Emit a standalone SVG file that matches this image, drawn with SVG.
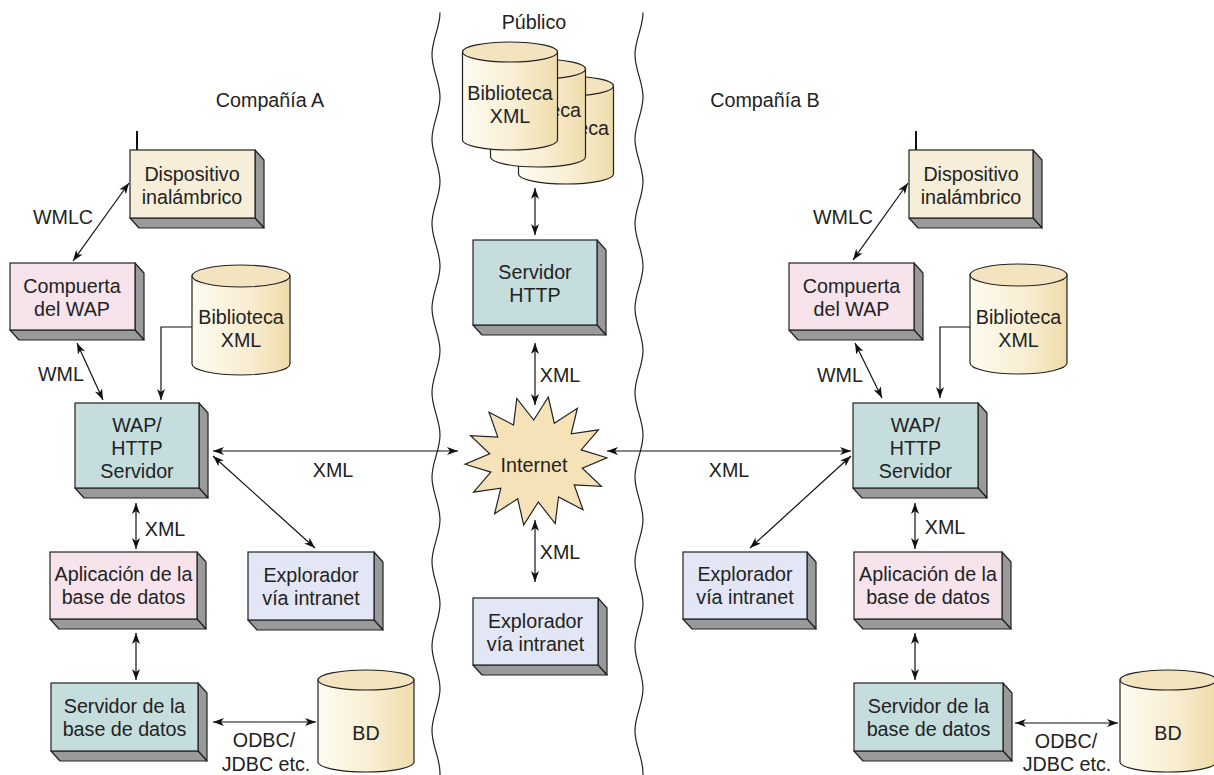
<svg xmlns="http://www.w3.org/2000/svg" xmlns:xlink="http://www.w3.org/1999/xlink" width="1214" height="775" viewBox="0 0 1214 775">
<style>
text{font-family:"Liberation Sans",Arial,sans-serif;font-size:19.7px;fill:#222;text-anchor:middle}
.front{stroke:#222;stroke-width:1.2}
.side{fill:#9a9a9a;stroke:#222;stroke-width:1.2;stroke-linejoin:round}
.cream{fill:#f6eed8}.pink{fill:#f6e3ec}.teal{fill:#c5dddd}.lav{fill:#e3e6f4}
.cylbody{fill:url(#cylg);stroke:#222;stroke-width:1.2}
.cyltop{fill:#f3e4bf;stroke:#222;stroke-width:1.2}
.conn line,.conn polyline{stroke:#111;stroke-width:1.2;fill:none}
.dbl{marker-start:url(#ah);marker-end:url(#ah)}
.one{marker-end:url(#ah)}
.wave{fill:none;stroke:#222;stroke-width:1.2}
</style>
<defs>
<linearGradient id="cylg" x1="0" y1="0" x2="1" y2="0">
<stop offset="0" stop-color="#fefbf0"/><stop offset="0.55" stop-color="#f8eed3"/><stop offset="1" stop-color="#efdcab"/>
</linearGradient>
<marker id="ah" viewBox="0 0 11 8" refX="11" refY="4" markerWidth="11" markerHeight="8" markerUnits="userSpaceOnUse" orient="auto-start-reverse">
<path d="M0,0 L11,4 L0,8 L3,4 Z" fill="#111"/>
</marker>
<path id="wv" d="M643,12.5 C643,27.9 635,39.35 635,54.75 S643,81.6 643,97 S635,123.85 635,139.25 S643,166.1 643,181.5 S635,208.35 635,223.75 S643,250.6 643,266 S635,292.85 635,308.25 S643,335.1 643,350.5 S635,377.35 635,392.75 S643,419.6 643,435 S635,461.85 635,477.25 S643,504.1 643,519.5 S635,546.35 635,561.75 S643,588.6 643,604 S635,630.85 635,646.25 S643,673.1 643,688.5 S635,715.35 635,730.75 S643,757.6 643,773 S635,799.85 635,815.25"/>
</defs>
<rect width="1214" height="775" fill="#fff"/>

<g id="boundaries">
<use xlink:href="#wv" class="wave"/>
<use xlink:href="#wv" class="wave" transform="translate(-203,0)"/>
</g>

<g id="labels-areas">
<text x="270" y="107">Compañía A</text>
<text x="534" y="29">Público</text>
<text x="765" y="107">Compañía B</text>
</g>

<!-- Company A -->
<g id="dispA">
<line x1="137" y1="131" x2="137" y2="150" stroke="#111" stroke-width="2"/>
<polygon class="side" points="255,150 264,160 264,228 255,218"/>
<polygon class="side" points="130,218 255,218 264,228 139,228"/>
<rect class="front cream" x="130" y="150" width="125" height="68"/>
<text x="192" y="181">Dispositivo</text><text x="192" y="204">inalámbrico</text>
</g>
<g id="gateA">
<polygon class="side" points="135,263 144,273 144,340 135,330"/>
<polygon class="side" points="10,330 135,330 144,340 19,340"/>
<rect class="front pink" x="10" y="263" width="125" height="67"/>
<text x="72" y="293">Compuerta</text><text x="72" y="316">del WAP</text>
</g>
<g id="libA">
<path class="cylbody" d="M192,276 V364 A49,11 0 0 0 290,364 V276 Z"/>
<ellipse class="cyltop" cx="241" cy="276" rx="49" ry="11"/>
<text x="241" y="324">Biblioteca</text><text x="241" y="347">XML</text>
</g>
<g id="wapA">
<polygon class="side" points="199,403 208,413 208,498 199,488"/>
<polygon class="side" points="75,488 199,488 208,498 84,498"/>
<rect class="front teal" x="75" y="403" width="124" height="85"/>
<text x="137" y="432">WAP/</text><text x="137" y="455">HTTP</text><text x="137" y="478">Servidor</text>
</g>
<g id="appA">
<polygon class="side" points="197,552 206,562 206,629 197,619"/>
<polygon class="side" points="50,619 197,619 206,629 59,629"/>
<rect class="front pink" x="50" y="552" width="147" height="67"/>
<text x="123.5" y="581">Aplicación de la</text><text x="123.5" y="604">base de datos</text>
</g>
<g id="expA">
<polygon class="side" points="374,552 383,562 383,630 374,620"/>
<polygon class="side" points="248,620 374,620 383,630 257,630"/>
<rect class="front lav" x="248" y="552" width="126" height="68"/>
<text x="311" y="582">Explorador</text><text x="311" y="605">vía intranet</text>
</g>
<g id="dbsA">
<polygon class="side" points="198,683 207,693 207,761 198,751"/>
<polygon class="side" points="51,751 198,751 207,761 60,761"/>
<rect class="front teal" x="51" y="683" width="147" height="68"/>
<text x="124.5" y="713">Servidor de la</text><text x="124.5" y="736">base de datos</text>
</g>
<g id="bdA">
<path class="cylbody" d="M318,680 V762 A48,10 0 0 0 414,762 V680 Z"/>
<ellipse class="cyltop" cx="366" cy="680" rx="48" ry="10"/>
<text x="366" y="740">BD</text>
</g>

<!-- Public -->
<g id="libC">
<path class="cylbody" d="M518.5,86 V174 A47.5,10 0 0 0 613.5,174 V86 Z"/>
<ellipse class="cyltop" cx="566" cy="86" rx="47.5" ry="10"/>
<text x="609" y="135" style="text-anchor:end">eca</text>
<path class="cylbody" d="M490.5,69 V157 A47.5,10 0 0 0 585.5,157 V69 Z"/>
<ellipse class="cyltop" cx="538" cy="69" rx="47.5" ry="10"/>
<text x="581" y="117" style="text-anchor:end">eca</text>
<path class="cylbody" d="M462.5,52 V140 A47.5,10 0 0 0 557.5,140 V52 Z"/>
<ellipse class="cyltop" cx="510" cy="52" rx="47.5" ry="10"/>
<text x="510" y="100">Biblioteca</text><text x="510" y="123">XML</text>
</g>
<g id="http">
<polygon class="side" points="597,240 606,250 606,335 597,325"/>
<polygon class="side" points="473,325 597,325 606,335 482,335"/>
<rect class="front teal" x="473" y="240" width="124" height="85"/>
<text x="535" y="279">Servidor</text><text x="535" y="302">HTTP</text>
</g>
<g id="internet">
<polygon points="548.3,397 554.3,423.2 577.4,408.2 571.2,433.9 598.4,429.9 581.2,449.9 606.9,457.8 582.3,468.1 601.4,486.3 574.2,484.9 583,509.7 558.5,497 555.2,523.6 538.3,502 523.7,525 517.7,498.8 494.6,513.8 500.8,488.1 473.6,492.1 490.8,472.1 465.1,464.2 489.7,453.9 470.6,435.7 497.8,437.1 489,412.3 513.5,425 516.8,398.4 533.7,420" fill="#f5e2b8" stroke="#222" stroke-width="1.2" stroke-linejoin="miter"/>
<text x="534" y="472">Internet</text>
</g>
<g id="expC">
<polygon class="side" points="598,598 607,608 607,675 598,665"/>
<polygon class="side" points="473,665 598,665 607,675 482,675"/>
<rect class="front lav" x="473" y="598" width="125" height="67"/>
<text x="535.5" y="628">Explorador</text><text x="535.5" y="651">vía intranet</text>
</g>

<!-- Company B -->
<g id="dispB">
<line x1="916" y1="131" x2="916" y2="150" stroke="#111" stroke-width="2"/>
<polygon class="side" points="1033,150 1042,160 1042,228 1033,218"/>
<polygon class="side" points="909,218 1033,218 1042,228 918,228"/>
<rect class="front cream" x="909" y="150" width="124" height="68"/>
<text x="971" y="181">Dispositivo</text><text x="971" y="204">inalámbrico</text>
</g>
<g id="gateB">
<polygon class="side" points="914,263 923,273 923,340 914,330"/>
<polygon class="side" points="789,330 914,330 923,340 798,340"/>
<rect class="front pink" x="789" y="263" width="125" height="67"/>
<text x="851.5" y="293">Compuerta</text><text x="851.5" y="316">del WAP</text>
</g>
<g id="libB">
<path class="cylbody" d="M970,275 V363 A48.5,11 0 0 0 1067,363 V275 Z"/>
<ellipse class="cyltop" cx="1018.5" cy="275" rx="48.5" ry="11"/>
<text x="1018.5" y="324">Biblioteca</text><text x="1018.5" y="347">XML</text>
</g>
<g id="wapB">
<polygon class="side" points="978,403 987,413 987,498 978,488"/>
<polygon class="side" points="853,488 978,488 987,498 862,498"/>
<rect class="front teal" x="853" y="403" width="125" height="85"/>
<text x="915.5" y="432">WAP/</text><text x="915.5" y="455">HTTP</text><text x="915.5" y="478">Servidor</text>
</g>
<g id="expB">
<polygon class="side" points="807,552 816,562 816,629 807,619"/>
<polygon class="side" points="683,619 807,619 816,629 692,629"/>
<rect class="front lav" x="683" y="552" width="124" height="67"/>
<text x="745" y="581">Explorador</text><text x="745" y="604">vía intranet</text>
</g>
<g id="appB">
<polygon class="side" points="1002,552 1011,562 1011,629 1002,619"/>
<polygon class="side" points="854,619 1002,619 1011,629 863,629"/>
<rect class="front pink" x="854" y="552" width="148" height="67"/>
<text x="928" y="581">Aplicación de la</text><text x="928" y="604">base de datos</text>
</g>
<g id="dbsB">
<polygon class="side" points="1003,683 1012,693 1012,761 1003,751"/>
<polygon class="side" points="854,751 1003,751 1012,761 863,761"/>
<rect class="front teal" x="854" y="683" width="149" height="68"/>
<text x="928.5" y="713">Servidor de la</text><text x="928.5" y="736">base de datos</text>
</g>
<g id="bdB">
<path class="cylbody" d="M1120,680 V762 A48,10 0 0 0 1216,762 V680 Z"/>
<ellipse class="cyltop" cx="1168" cy="680" rx="48" ry="10"/>
<text x="1168" y="740">BD</text>
</g>

<g id="connectors" class="conn">
<line class="dbl" x1="129" y1="183" x2="73" y2="261"/>
<line class="dbl" x1="77" y1="343" x2="103" y2="400"/>
<polyline class="one" points="192,327 161,327 161,400"/>
<line class="dbl" x1="213" y1="451" x2="458" y2="451"/>
<line class="dbl" x1="213" y1="456" x2="315" y2="548"/>
<line class="dbl" x1="136" y1="503" x2="136" y2="549"/>
<line class="dbl" x1="136" y1="633" x2="136" y2="680"/>
<line class="dbl" x1="213" y1="722" x2="316" y2="722"/>
<line class="dbl" x1="535" y1="188" x2="535" y2="235"/>
<line class="dbl" x1="535" y1="343" x2="535" y2="405"/>
<line class="dbl" x1="535" y1="520" x2="535" y2="582"/>
<line class="dbl" x1="908" y1="183" x2="853" y2="260"/>
<line class="dbl" x1="855" y1="343" x2="882" y2="398"/>
<polyline class="one" points="970,327 940,327 940,398"/>
<line class="dbl" x1="607" y1="451" x2="851" y2="451"/>
<line class="dbl" x1="851" y1="456" x2="750" y2="548"/>
<line class="dbl" x1="915" y1="503" x2="915" y2="549"/>
<line class="dbl" x1="915" y1="633" x2="915" y2="680"/>
<line class="dbl" x1="1015" y1="723" x2="1118" y2="723"/>
</g>

<g id="connector-labels">
<text x="63" y="224">WMLC</text>
<text x="61" y="381">WML</text>
<text x="165" y="536">XML</text>
<text x="333" y="477">XML</text>
<text x="264" y="747">ODBC/</text>
<text x="266" y="771">JDBC etc.</text>
<text x="560" y="382">XML</text>
<text x="560" y="559">XML</text>
<text x="843" y="224">WMLC</text>
<text x="840" y="382">WML</text>
<text x="945" y="534">XML</text>
<text x="729" y="477">XML</text>
<text x="1066" y="748">ODBC/</text>
<text x="1067" y="771">JDBC etc.</text>
</g>
</svg>
